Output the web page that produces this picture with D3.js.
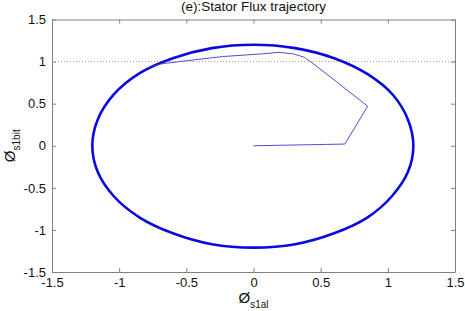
<!DOCTYPE html>
<html>
<head>
<meta charset="utf-8">
<script src="https://cdn.jsdelivr.net/npm/d3@7"></script>
<style>
  html, body { margin: 0; padding: 0; background: #fff; }
  svg { display: block; font-family: "Liberation Sans", Arial, sans-serif; }
</style>
</head>
<body>
<svg id="chart" width="465" height="311"></svg>
<script>
// ---- data ----
const title = "(e):Stator Flux trajectory";
const xTicks = [-1.5, -1, -0.5, 0, 0.5, 1, 1.5];
const yTicks = [-1.5, -1, -0.5, 0, 0.5, 1, 1.5];
const refLevel = 1;

// steady-state flux circle (closed loop)
const circleX = [1.19, 1.15, 1.04, 0.85, 0.60, 0.31, 0.00, -0.31, -0.60, -0.85, -1.04, -1.16,
                 -1.20, -1.16, -1.04, -0.85, -0.60, -0.31, 0.00, 0.31, 0.60, 0.85, 1.03, 1.15];
const circleY = [0.00, 0.31, 0.60, 0.85, 1.04, 1.16, 1.20, 1.16, 1.04, 0.86, 0.61, 0.31,
                 0.00, -0.31, -0.60, -0.85, -1.04, -1.17, -1.21, -1.17, -1.04, -0.85, -0.60, -0.31];

// start-up transient trajectory
const transX = [0.00, 0.68, 0.85, 0.45, 0.38, 0.30, 0.19, 0.05, -0.23, -0.55, -0.70, -0.80];
const transY = [0.00, 0.02, 0.47, 0.97, 1.05, 1.09, 1.11, 1.09, 1.06, 1.00, 0.97, 0.92];

// ---- layout ----
const svg = d3.select("#chart");
const W = 465, H = 311;
const m = { left: 52, right: 10, top: 19.5, bottom: 39 };
const x = d3.scaleLinear().domain([-1.5, 1.5]).range([m.left, W - m.right]);
const y = d3.scaleLinear().domain([-1.5, 1.5]).range([H - m.bottom, m.top]);

const axisColor = "#808080";
const tickLen = 4;
const fmt = d => String(d);

// bottom axis (labels) and top axis (ticks only), ticks inward
const gB = svg.append("g").attr("transform", `translate(0,${y(-1.5)})`)
  .call(d3.axisBottom(x).tickValues(xTicks).tickFormat(fmt).tickSizeInner(-tickLen).tickSizeOuter(0).tickPadding(6));
const gT = svg.append("g").attr("transform", `translate(0,${y(1.5)})`)
  .call(d3.axisTop(x).tickValues(xTicks).tickFormat("").tickSizeInner(-tickLen).tickSizeOuter(0));
const gL = svg.append("g").attr("transform", `translate(${x(-1.5)},0)`)
  .call(d3.axisLeft(y).tickValues(yTicks).tickFormat(fmt).tickSizeInner(-tickLen).tickSizeOuter(0).tickPadding(6));
const gR = svg.append("g").attr("transform", `translate(${x(1.5)},0)`)
  .call(d3.axisRight(y).tickValues(yTicks).tickFormat("").tickSizeInner(-tickLen).tickSizeOuter(0));

[gB, gT, gL, gR].forEach(g => {
  g.selectAll(".domain").attr("stroke", axisColor).attr("stroke-width", 1);
  g.selectAll(".tick line").attr("stroke", axisColor);
  g.selectAll(".tick text").attr("fill", "#111").style("font-size", "13px")
    .style("font-family", "'Liberation Sans', Arial, sans-serif");
});

// reference line at y = 1 (dotted)
svg.append("line")
  .attr("x1", x(-1.5)).attr("x2", x(1.5))
  .attr("y1", y(refLevel)).attr("y2", y(refLevel))
  .attr("stroke", "#999").attr("stroke-width", 1).attr("stroke-dasharray", "1,2");

// circle
const circlePts = circleX.map((v, i) => [v, circleY[i]]);
svg.append("path")
  .datum(circlePts)
  .attr("d", d3.line().x(d => x(d[0])).y(d => y(d[1])).curve(d3.curveCatmullRomClosed.alpha(0.5)))
  .attr("fill", "none").attr("stroke", "#0a0adc").attr("stroke-width", 2.6);

// transient
const transPts = transX.map((v, i) => [v, transY[i]]);
svg.append("path")
  .datum(transPts)
  .attr("d", d3.line().x(d => x(d[0])).y(d => y(d[1])))
  .attr("fill", "none").attr("stroke", "#3b3bc8").attr("stroke-width", 0.9);

// title
svg.append("text")
  .attr("x", x(0)).attr("y", 11)
  .attr("text-anchor", "middle").style("font-size", "13.5px").attr("fill", "#111")
  .text(title);

// x label: Ø with subscript s1al
const xl = svg.append("text")
  .attr("x", x(0)).attr("y", 303)
  .attr("text-anchor", "middle").attr("fill", "#111");
xl.append("tspan").style("font-size", "15px").text("Ø");
xl.append("tspan").style("font-size", "10px").attr("dy", 5).text("s1al");

// y label: Ø with subscript s1bit, rotated
const yl = svg.append("text")
  .attr("transform", `translate(15,${y(0)}) rotate(-90)`)
  .attr("text-anchor", "middle").attr("fill", "#111");
yl.append("tspan").style("font-size", "15px").text("Ø");
yl.append("tspan").style("font-size", "10px").attr("dy", 5).text("s1bit");
</script>
</body>
</html>
